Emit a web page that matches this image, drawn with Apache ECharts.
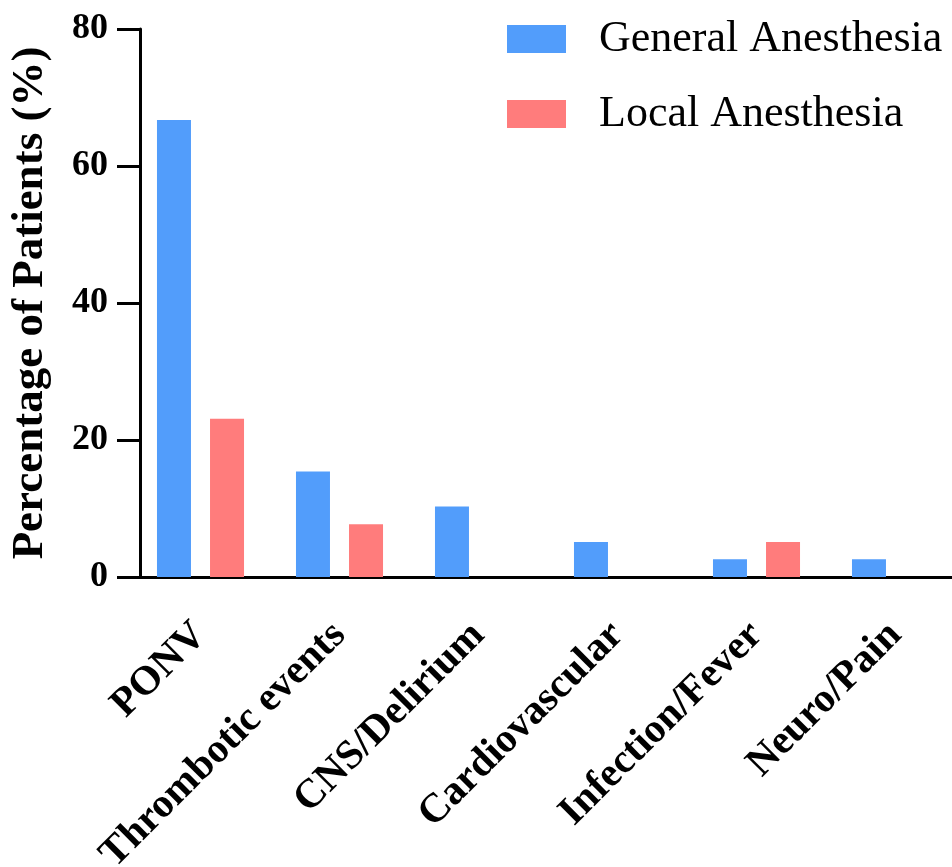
<!DOCTYPE html>
<html>
<head>
<meta charset="utf-8">
<script src="https://cdn.jsdelivr.net/npm/echarts@6/dist/echarts.min.js"></script>
<style>html,body{margin:0;padding:0;background:#fff;}#c{width:952px;height:867px;}</style>
</head>
<body>
<div id="c"></div>
<script>
const categories = ['PONV', 'Thrombotic events', 'CNS/Delirium', 'Cardiovascular', 'Infection/Fever', 'Neuro/Pain'];
const generalAnesthesia = [66.7, 15.4, 10.3, 5.1, 2.6, 2.6];
const localAnesthesia = [23.1, 7.7, 0, 0, 5.1, 0];
const yTicks = [0, 20, 40, 60, 80];
const seriesNames = ['General Anesthesia', 'Local Anesthesia'];

const FONT = '"Liberation Serif", "Times New Roman", serif';
const chart = echarts.init(document.getElementById('c'), null, {renderer: 'canvas'});
chart.setOption({
  animation: false,
  backgroundColor: '#ffffff',
  legend: {
    orient: 'vertical',
    left: 507, top: 17,
    padding: 0,
    itemWidth: 59, itemHeight: 28, itemGap: 31,
    icon: 'rect',
    textStyle: {fontFamily: FONT, fontSize: 44, color: '#000', padding: [0, 0, 0, 28]},
    data: seriesNames
  },
  grid: {left: 131, top: 29, width: 834, height: 548, containLabel: false, outerBoundsMode: 'none'},
  xAxis: {
    type: 'category',
    data: categories,
    boundaryGap: true,
    axisLine: {lineStyle: {color: '#000', width: 3}},
    axisTick: {alignWithLabel: true, length: 21, lineStyle: {color: '#000', width: 3}},
    axisLabel: {interval: 0, rotate: 45, margin: 52, color: '#000', fontFamily: FONT, fontWeight: 'bold', fontSize: 41}
  },
  yAxis: {
    type: 'value',
    min: yTicks[0], max: yTicks[yTicks.length - 1], interval: 20,
    offset: -9,
    name: 'Percentage of Patients (%)',
    nameLocation: 'middle',
    nameGap: 87,
    nameTextStyle: {fontFamily: FONT, fontWeight: 'bold', fontSize: 45, color: '#000'},
    axisLine: {show: true, lineStyle: {color: '#000', width: 3}},
    axisTick: {show: true, length: 23, lineStyle: {color: '#000', width: 3}},
    axisLabel: {margin: 32, color: '#000', fontFamily: FONT, fontWeight: 'bold', fontSize: 36},
    splitLine: {show: false}
  },
  series: [
    {name: seriesNames[0], type: 'bar', data: generalAnesthesia, barWidth: 34, barGap: '56%', itemStyle: {color: '#529DFB'}},
    {name: seriesNames[1], type: 'bar', data: localAnesthesia, barWidth: 34, itemStyle: {color: '#FF7C7C'}}
  ]
});
</script>
</body>
</html>
